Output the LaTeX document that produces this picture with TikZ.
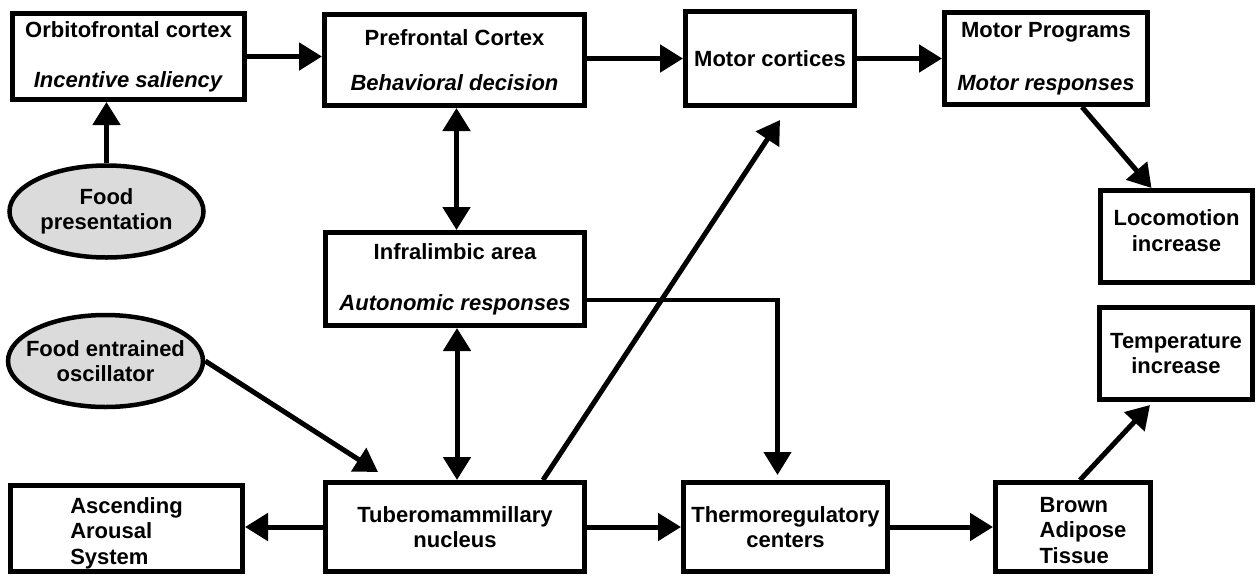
\documentclass[tikz,border=0pt]{standalone}
\usepackage{fontspec}
\setmainfont{Liberation Sans}
\usetikzlibrary{arrows.meta,shapes.geometric}
\newcommand\txtlines[3]{\raisebox{#1}[\height][\depth]{\begin{tabular}{@{}#2@{}}#3\end{tabular}}}
\begin{document}
\begin{tikzpicture}[x=1pt,y=-1pt,
  every node/.style={font=\fontsize{22}{25.5}\selectfont\bfseries},
  box/.style={draw, line width=5pt, rectangle, inner sep=0pt, align=center},
  oval/.style={draw, line width=4.5pt, ellipse, fill=black!14, inner xsep=-30pt, inner ysep=-8pt, align=center},
  arr/.style={line width=5pt, -{Triangle[length=23pt,width=27pt]}},
  darr/.style={line width=5pt, {Triangle[length=23pt,width=27pt]}-{Triangle[length=23pt,width=27pt]}},
]
\useasboundingbox[fill=white] (0,0) rectangle (1260,576);

\node[box, minimum width=232pt, minimum height=86pt] (orb) at (128.5,56.5) {Orbitofrontal cortex\\[24.5pt]\textit{Incentive saliency}};
\node[box, minimum width=260pt, minimum height=91pt] (pfc) at (454.5,60) {Prefrontal Cortex\\[19.5pt]\textit{Behavioral decision}};
\node[box, minimum width=169pt, minimum height=94pt] (mc) at (770,58.5) {Motor cortices};
\node[box, minimum width=203pt, minimum height=92pt] (mp) at (1046,58.5) {Motor Programs\\[27.5pt]\textit{Motor responses}};
\node[box, minimum width=152pt, minimum height=92pt] (loco) at (1176.5,236.5) {\txtlines{3pt}{c}{Locomotion\\increase}};
\node[box, minimum width=153pt, minimum height=92pt] (temp) at (1176,353.5) {Temperature\\increase};
\node[box, minimum width=259pt, minimum height=93pt] (il) at (455,279) {Infralimbic area\\[25.5pt]\textit{Autonomic responses}};
\node[box, minimum width=232pt, minimum height=86pt] (asc) at (126.5,528.5) {\txtlines{-5pt}{l}{Ascending\\Arousal\\System}};
\node[box, minimum width=259pt, minimum height=89pt] (tmn) at (455,527) {Tuberomammillary\\nucleus};
\node[box, minimum width=204pt, minimum height=89pt] (thermo) at (785.5,527) {Thermoregulatory\\centers};
\node[box, minimum width=155pt, minimum height=89pt] (bat) at (1073,527) {\txtlines{-5.5pt}{l}{\hspace*{20pt}Brown\\\hspace*{20pt}Adipose\\\hspace*{20pt}Tissue}};
\node[oval, minimum width=194pt, minimum height=92pt] (fp) at (106.5,211.5) {Food\\presentation};
\node[oval, minimum width=195pt, minimum height=92pt] (feo) at (105.5,361) {Food entrained\\oscillator};

\draw[arr] (fp.north) -- (fp.north |- orb.south);
\draw[arr] (orb.east) -- (orb.east -| pfc.west);
\draw[arr] (mc.west -| pfc.east) -- (mc.west);
\draw[arr] (mc.east) -- (mc.east -| mp.west);
\draw[arr] ([xshift=36pt]mp.south) -- ([xshift=-25pt]loco.north);
\draw[darr] ([xshift=2pt]pfc.south) -- ([xshift=2pt]pfc.south |- il.north);
\draw[darr] ([xshift=2pt]il.south) -- ([xshift=2pt]il.south |- tmn.north);
\draw[arr] (feo.east) -- ([shift={(55pt,8pt)}]tmn.north west);
\draw[arr] ([xshift=88pt]tmn.north) -- ([shift={(10pt,-12pt)}]mc.south);
\draw[arr, line width=4.5pt] ([yshift=-21pt]il.east) -| ([shift={(-8pt,5pt)}]thermo.north);
\draw[arr] (tmn.west) -- (tmn.west -| asc.east);
\draw[arr] (tmn.east) -- (tmn.east -| thermo.west);
\draw[arr] (thermo.east) -- (thermo.east -| bat.west);
\draw[arr] ([xshift=7pt]bat.north) -- ([shift={(-26pt,-3pt)}]temp.south);
\end{tikzpicture}
\end{document}
